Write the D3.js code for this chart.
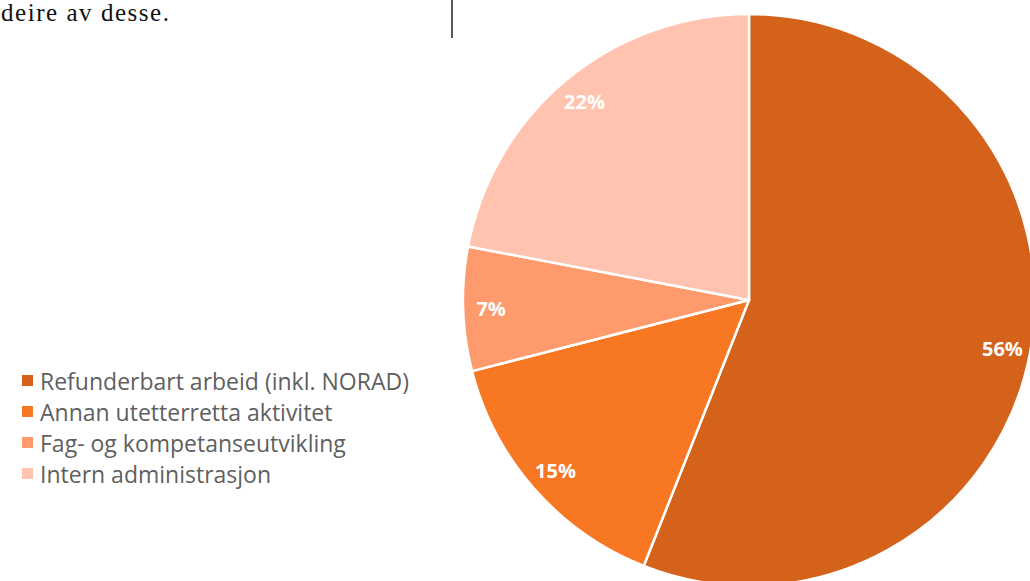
<!DOCTYPE html>
<html><head><meta charset="utf-8">
<script src="https://cdn.jsdelivr.net/npm/d3@7"></script>
<style>html,body{margin:0;padding:0;background:#fff;overflow:hidden}</style>
</head><body>
<svg id="c" width="1030" height="581"></svg>
<script>
const categories = ["Refunderbart arbeid (inkl. NORAD)", "Annan utetterretta aktivitet", "Fag- og kompetanseutvikling", "Intern administrasjon"];
const values = [56, 15, 7, 22];
const colors = ["#D4621A", "#F87722", "#FE9A6B", "#FFC3B0"];
const labels = ["56%", "15%", "7%", "22%"];

const svg = d3.select("#c");
// fragment of surrounding document text
svg.append("text").attr("x", 1).attr("y", 21)
  .attr("font-family", "'Liberation Serif', serif").attr("font-size", 25).attr("fill", "#111")
  .attr("textLength", 168).attr("lengthAdjust", "spacing")
  .text("deire av desse.");
svg.append("line").attr("x1", 452).attr("x2", 452).attr("y1", 0).attr("y2", 38)
  .attr("stroke", "#222").attr("stroke-width", 1.5);

const cx = 749, cy = 300, R = 286;
const pie = d3.pie().sort(null).value(d => d)(values);
const arc = d3.arc().innerRadius(0).outerRadius(R);
const labelArc = d3.arc().innerRadius(258).outerRadius(258);
const g = svg.append("g").attr("transform", `translate(${cx},${cy})`);
g.selectAll("path").data(pie).join("path")
  .attr("d", arc).attr("fill", (d, i) => colors[i])
  .attr("stroke", "#fff").attr("stroke-width", 2.5).attr("stroke-linejoin", "round");
g.selectAll("text").data(pie).join("text")
  .attr("transform", d => `translate(${labelArc.centroid(d)})`)
  .attr("text-anchor", "middle").attr("dominant-baseline", "central")
  .attr("font-family", "'Open Sans', sans-serif").attr("font-weight", "bold")
  .attr("font-size", 20).attr("fill", "#fff")
  .text((d, i) => labels[i]);

const leg = svg.append("g").attr("transform", "translate(22,381)");
const row = leg.selectAll("g").data(categories).join("g")
  .attr("transform", (d, i) => `translate(0,${i * 31})`);
row.append("rect").attr("x", 0).attr("y", -6).attr("width", 11).attr("height", 11)
  .attr("fill", (d, i) => colors[i]);
row.append("text").attr("x", 18).attr("y", 0).attr("dominant-baseline", "central")
  .attr("font-family", "'Open Sans', sans-serif").attr("font-size", 23).attr("fill", "#5f5f5f")
  .text(d => d);
</script>
</body></html>
